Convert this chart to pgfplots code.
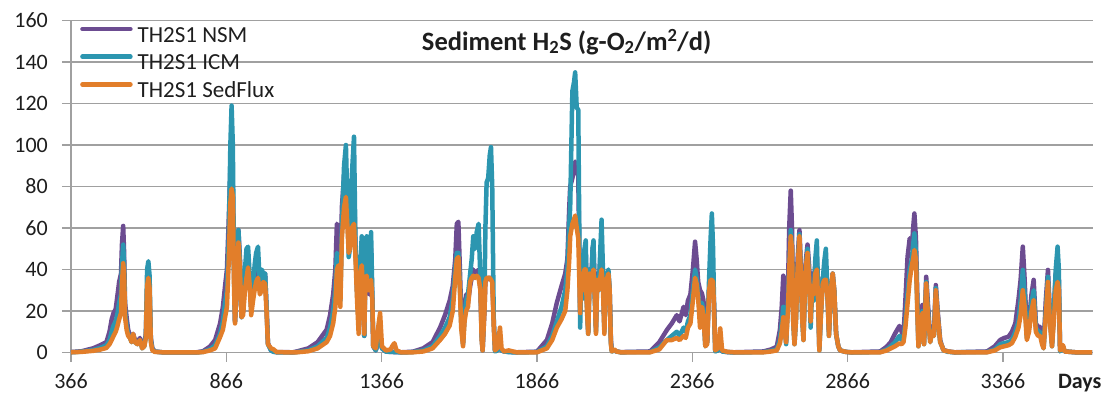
\documentclass[border=0pt]{standalone}
\usepackage{pgfplots}
\usepackage{pgfplotstable}
\pgfplotsset{compat=1.18}
\usepackage{fontspec}
\setmainfont{Carlito}

\definecolor{nsm}{RGB}{108,76,145}
\definecolor{icm}{RGB}{44,150,176}
\definecolor{sed}{RGB}{226,126,42}
\definecolor{gridgray}{RGB}{160,160,160}
\definecolor{txt}{RGB}{30,30,30}

% day, NSM, ICM, SedFlux
\pgfplotstableread{
d n i s
366 0.2 0.1 0.1
400 0.6 0.4 0.3
437 2.0 1.2 0.8
460 3.5 2.2 1.4
480 5 3.5 2.2
490 10 6 4
497 16 10 6
503 19 13 8
510 21 15 10
516 28 19 13
521 34 24 16
527 38 28 19
530 52 42 33
534 61 52 43
537 48 42 38
540 24 20 17
545 17 13 11
550 11 9 8
556 8 7 7
561 6 5 5
566 9 8 9
572 6 5 5
580 5 4 4
588 7 6 6
595 3 2 2
602 4 3 3
607 9 8 7
611 30 40 32
615 35 44 36
619 28 37 31
623 7 6 5
628 2 1.5 1
636 0.5 0.4 0.3
660 0.1 0.1 0.1
770 0.1 0 0
791 0.6 0.3 0.2
813 2.8 1.5 1
830 6 3.5 2
846 14 9 7.5
855 22 15 11
862 32 24 17
868 40 30 22
874 65 55 45
879 88 100 72
883 90 119 79
887 80 100 75
891 40 35 30
894 15 15 14
899 30 32 32
905 59 59 53
910 45 42 40
915 17 17 17
920 20 22 18
926 35 40 30
931 40 50 36
936 42 51 41
941 35 38 33
946 22 20 18
952 28 29 25
957 38 42 30
962 40 48 34
968 45 51 36
974 30 32 28
980 38 40 30
985 36 38 34
991 38 38 33
996 20 20 18
1000 4.5 4 4
1010 1 1 2
1018 0.5 0.3 1.5
1028 0.2 0.1 0.2
1080 0.1 0 0
1093 0.5 0.2 0.1
1130 2 1 0.6
1160 5 3 2
1189 11 7 5
1200 18 12 8
1210 28 20 14
1217 40 30 22
1222 62 48 40
1227 60 46 42
1233 30 25 22
1238 70 60 55
1245 85 90 70
1251 88 100 75
1256 75 70 60
1260 50 46 48
1264 60 50 50
1270 75 85 60
1277 80 104 62
1282 50 50 45
1287 30 28 25
1292 20 15 9
1297 40 42 38
1302 52 56 42
1306 30 35 30
1310 8 8 9
1314 40 45 36
1318 50 56 37
1322 30 32 30
1326 28 30 30
1332 50 58 35
1336 25 28 25
1339 3 3 3
1347 1 1 2
1353 4 4 10
1361 8 8 19
1367 2 2 3
1380 0.5 0.4 1
1395 0.3 0.3 1.5
1400 0.3 0.3 3
1407 0.2 0.2 4.5
1414 0.2 0.2 1
1430 0.1 0 0
1467 0.4 0.2 0.1
1500 2 1 0.5
1530 5 3 2
1554 12 8 6
1570 18 12 9
1585 25 17 13
1595 32 26 20
1603 45 40 36
1608 62 48 45
1613 63 48 46
1618 40 32 30
1622 20 15 12
1628 5 4 3
1633 20 18 15
1638 28 25 20
1644 24 28 22
1651 32 38 34
1656 36 45 36
1661 40 56 37
1667 36 50 36
1672 38 58 37
1678 40 62 36
1684 30 35 30
1688 8 8 6
1691 1 1 1
1697 20 25 20
1700 34 60 34
1704 35 82 36
1709 36 84 36
1714 36 95 36
1718 36 99 35
1722 35 80 34
1727 15 15 12
1731 1 0.5 1
1738 1 1 2
1747 3 3 12
1752 1 1 2
1760 0.5 0.5 0.5
1775 0.3 0.2 1
1800 0.1 0 0.1
1866 0.4 0.2 0.1
1898 6 3 2
1915 14 8 6
1930 24 15 12
1945 32 22 16
1957 38 30 20
1964 45 40 30
1970 70 62 45
1973 80 70 56
1980 84 126 62
1985 88 130 64
1989 92 135 66
1994 88 118 60
1999 85 117 55
2005 19 12 19
2009 40 38 38
2014 30 26 30
2019 45 50 40
2023 48 54 40
2027 25 22 20
2031 10 9 9
2036 40 40 38
2041 35 32 30
2045 50 50 38
2048 52 54 40
2052 30 26 28
2056 12 10 9
2060 38 36 35
2065 33 30 30
2070 45 50 36
2074 50 64 40
2078 40 42 33
2083 12 10 9
2087 35 33 30
2092 38 38 36
2096 38 40 38
2100 30 30 30
2104 6 5 4
2107 1 0.5 0.5
2115 1 1 1.5
2122 0.5 0.5 0.5
2135 0.2 0.1 0.1
2230 0.5 0.2 0.1
2260 5 2.5 1.5
2284 10.8 6 6
2300 14 8 6
2316 18 10 7
2325 15 8 6
2338 22 12 8
2345 18 10 7
2352 25 15 12
2360 28 18 14
2368 40 30 25
2375 53.4 40 36
2380 45 36 33
2385 34 28 26
2391 30 18 12
2397 28.5 24 22
2402 25 20 18
2408 4.4 3 3
2414 5 5 4
2420 30 35 30
2425 36 55 35
2429 36 67 35
2433 34 50 34
2437 20 15 15
2440 1 0.5 1
2448 1 1 2
2456 3 3 11.6
2462 0.5 0.5 1
2480 0.2 0.2 0.3
2500 0.1 0 0.1
2595 0.5 0.2 0.1
2620 1.5 0.8 0.5
2638 2.8 1.5 1
2648 10.8 6 4.4
2654 22 14 10
2659 37 22 17
2664 20 14 10
2668 5 4 5
2674 30 25 20
2678 60 40 40
2683 78 59 56
2687 60 50 50
2691 20 15 15
2695 5 4 4
2700 20 16 16
2705 45 40 40
2711 59 57 56
2716 40 36 36
2720 20 16 16
2724 7.6 6 6
2728 30 28 28
2732 45 42 42
2737 52 50 48
2742 42 38 36
2747 20 12 15
2752 38 30 32
2757 30 25 28
2762 42 45 38
2767 45 54 40
2771 30 30 25
2775 2 1 1
2780 20 18 18
2786 36 35 33
2791 38 44 35
2796 38 50 35
2801 30 30 28
2806 10 8 8
2812 30 28 30
2818 38 38 38
2823 30 30 30
2829 9 9 9
2836 3 3 3
2842 1 1 1
2860 0.3 0.3 0.3
2880 0.1 0 0
2971 0.5 0.2 0.1
2992 2.8 1.5 1
3005 5 3 2
3019 9.2 5 3
3033 12.8 8 4.4
3040 10 6 4
3046 8 6 5
3052 25 15 12
3059 46 28.5 23.7
3066 55 40 35
3073 50 45 42
3077 60 52 45
3081 67 57.4 49.4
3086 55 48 45
3090 30 25 22
3094 4.4 3 3
3100 12 10 10
3107 22.9 20 18.9
3112 5 4 4
3119 36.5 34 33.3
3124 25 22 20
3132 6 5 5
3138 12 10 10
3144 10 8 8
3150 32.5 31 30
3156 20 18 18
3164 6 5 5
3170 3 3 3
3175 1.2 1 1
3190 0.5 0.3 0.5
3210 0.1 0.1 0.1
3315 0.5 0.2 0.1
3340 3 1.5 1
3357 6 4 2.5
3370 7 4.5 3
3384 7.6 5 3.5
3395 10 6 4.5
3406 14 10 7.6
3416 25.3 15 12
3423 35 25 18
3430 51 39.8 30
3436 35 28 22
3443 9 7 6
3450 15 12 10
3458 28 24 20
3465 35 30 25.3
3472 14 12 10
3479 12.4 10 8
3486 12.4 10 8
3492 6 5 4
3497 2.8 2 2
3504 25 20 18
3511 39.8 36.5 34
3517 20 17 15
3524 4.4 3 3
3530 20 20 15
3536 38 40 30
3542 40 51 34
3546 35 40 30
3550 1 0.5 1
3555 2 2 2
3559 3 3 3.6
3565 0.5 0.5 0.5
3600 0.1 0.1 0.1
3653 0 0 0
}\hstable

\begin{document}
\begin{tikzpicture}[x=1pt,y=1pt]
\useasboundingbox (0,0) rectangle (1112,399);
\begin{axis}[
  at={(71pt,46.5pt)}, anchor=south west,
  scale only axis, width=1022pt, height=332pt,
  xmin=366, xmax=3656, ymin=0, ymax=160,
  xtick={366,866,...,3366},
  ytick={0,20,...,160},
  axis x line*=bottom, axis y line*=left,
  axis line style={gridgray, line width=1.3pt, -},
  tick align=outside, major tick length=9pt,
  tick style={gridgray, line width=1.3pt},
  ymajorgrids, major grid style={gridgray, line width=1.3pt},
  /pgf/number format/assume math mode=true,
  /pgf/number format/set thousands separator={},
  ticklabel style={font=\fontsize{22}{26}\selectfont, text=txt},
  yticklabel style={inner sep=0pt, xshift=-14pt},
  xticklabel style={inner sep=0pt, yshift=-12pt},
  clip=false,
  legend style={at={(axis description cs:0,1)}, anchor=north west,
    xshift=9pt, yshift=-1.5pt,
    draw=none, fill=none, inner sep=0pt, row sep=0pt,
    font=\fontsize{23}{27}\selectfont,
    nodes={inner sep=0pt, text height=20pt, text depth=7.7pt, text=txt}},
  legend cell align=left,
  legend image code/.code={\draw[#1, line width=4.5pt, line cap=round] (0pt,7pt) -- (48pt,7pt);},
  every axis plot/.append style={line width=4.5pt, line join=round},
]
\addplot[nsm] table[x=d, y=n] {\hstable};
\addlegendentry{\hspace{5pt}TH2S1 NSM}
\addplot[icm] table[x=d, y=i] {\hstable};
\addlegendentry{\hspace{5pt}TH2S1 ICM}
\addplot[sed] table[x=d, y=s] {\hstable};
\addlegendentry{\hspace{5pt}TH2S1 SedFlux}
\node[font=\fontsize{26.5}{30}\selectfont\bfseries, text=txt] at (axis description cs:0.485,0.936)
  {Sediment H\textsubscript{2}S (g-O\textsubscript{2}/m\textsuperscript{2}/d)};
\node[font=\fontsize{22}{26}\selectfont\bfseries, text=txt, yshift=-30.5pt] at (axis description cs:0.987,0) {Days};
\end{axis}
\end{tikzpicture}
\end{document}
